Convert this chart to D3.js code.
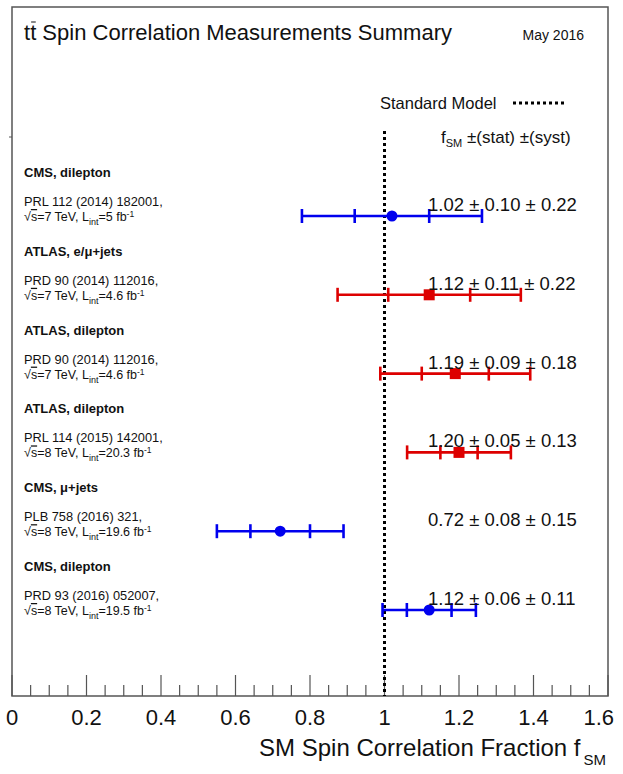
<!DOCTYPE html>
<html>
<head>
<meta charset="utf-8">
<script src="https://cdn.jsdelivr.net/npm/d3@7"></script>
<style>
  body { margin: 0; background: #fff; }
  text { font-family: "Liberation Sans", Arial, sans-serif; fill: #111; }
</style>
</head>
<body>
<svg id="chart" width="623" height="774"></svg>
<script>
// Measurements, top to bottom
var experiments = ["CMS, dilepton", "ATLAS, e/\u03bc+jets", "ATLAS, dilepton", "ATLAS, dilepton", "CMS, \u03bc+jets", "CMS, dilepton"];
var collabs = ["CMS", "ATLAS", "ATLAS", "ATLAS", "CMS", "CMS"];
var references = ["PRL 112 (2014) 182001,", "PRD 90 (2014) 112016,", "PRD 90 (2014) 112016,", "PRL 114 (2015) 142001,", "PLB 758 (2016) 321,", "PRD 93 (2016) 052007,"];
var energies = ["7", "7", "7", "8", "8", "8"];
var lumis = ["5", "4.6", "4.6", "20.3", "19.6", "19.5"];
var fsm = [1.02, 1.12, 1.19, 1.20, 0.72, 1.12];
var statErr = [0.10, 0.11, 0.09, 0.05, 0.08, 0.06];
var systErr = [0.22, 0.22, 0.18, 0.13, 0.15, 0.11];
var xTicks = [0, 0.2, 0.4, 0.6, 0.8, 1, 1.2, 1.4, 1.6];
var smValue = 1;

var cmsColour = '#0000ee';
var atlasColour = '#dd0000';
var frameColour = '#555';

var svg = d3.select("#chart");

var x = d3.scaleLinear().domain([0, 1.6]).range([12, 608]);
var y = d3.scaleLinear().domain([0, experiments.length - 1]).range([216, 610]);
var plotTop = 7, plotBottom = 696;

var rows = experiments.map(function (e, i) {
  return {
    i: i, exp: e, collab: collabs[i], ref: references[i], energy: energies[i], lumi: lumis[i],
    f: fsm[i], stat: statErr[i], syst: systErr[i],
    tot: Math.sqrt(statErr[i] * statErr[i] + systErr[i] * systErr[i])
  };
});

function colourOf(d) { return d.collab === "CMS" ? cmsColour : atlasColour; }

// frame
svg.append("rect")
  .attr("x", x(0)).attr("y", plotTop)
  .attr("width", x(1.6) - x(0)).attr("height", plotBottom - plotTop)
  .attr("fill", "none").attr("stroke", frameColour).attr("stroke-width", 1.5);
svg.append("line")
  .attr("x1", x(0) - 3).attr("x2", x(0)).attr("y1", 137).attr("y2", 137)
  .attr("stroke", frameColour).attr("stroke-width", 1);

// x axis ticks
var minorTicks = d3.range(0, 33).map(function (k) { return k * 0.05; });
svg.append("g").selectAll("line")
  .data(minorTicks)
  .enter().append("line")
  .attr("x1", function (d) { return x(d); })
  .attr("x2", function (d) { return x(d); })
  .attr("y1", plotBottom)
  .attr("y2", function (d, k) { return k % 4 === 0 ? plotBottom - 21 : plotBottom - 11; })
  .attr("stroke", frameColour).attr("stroke-width", 1.2);

svg.append("g").selectAll("text")
  .data(xTicks)
  .enter().append("text")
  .attr("x", function (d) { return x(d); })
  .attr("y", 725)
  .attr("text-anchor", function (d) { return d === 0 ? "start" : (d === 1.6 ? "end" : "middle"); })
  .attr("dx", function (d) { return d === 0 ? -6 : (d === 1.6 ? 6 : 0); })
  .attr("font-size", 22)
  .text(function (d) { return d3.format("")(d); });

var xTitle = svg.append("text")
  .attr("x", 606).attr("y", 756)
  .attr("text-anchor", "end")
  .attr("font-size", 24);
xTitle.append("tspan").text("SM Spin Correlation Fraction f");
xTitle.append("tspan").attr("font-size", 15).attr("dy", 9).attr("dx", 3).text("SM");

// SM line
svg.append("line")
  .attr("x1", x(smValue)).attr("x2", x(smValue))
  .attr("y1", 131).attr("y2", plotBottom)
  .attr("stroke", "#000").attr("stroke-width", 3)
  .attr("stroke-dasharray", "3,3");

// title
var title = svg.append("text").attr("x", 24).attr("y", 40).attr("font-size", 22);
title.append("tspan").text("t");
title.append("tspan").text("t");
title.append("tspan").text(" Spin Correlation Measurements Summary");
var tn = title.node();
var barX = 24 + tn.getSubStringLength(0, 1);
var barW = tn.getSubStringLength(1, 1);
svg.append("line")
  .attr("x1", barX + 1).attr("x2", barX + barW - 0.5)
  .attr("y1", 22).attr("y2", 22)
  .attr("stroke", "#111").attr("stroke-width", 1);

svg.append("text").attr("x", 584).attr("y", 40).attr("text-anchor", "end")
  .attr("font-size", 14).text("May 2016");

// legend
svg.append("text").attr("x", 380).attr("y", 109).attr("font-size", 16.5).text("Standard Model");
svg.append("line")
  .attr("x1", 513).attr("x2", 564).attr("y1", 103).attr("y2", 103)
  .attr("stroke", "#000").attr("stroke-width", 3)
  .attr("stroke-dasharray", "3,3");
var leg2 = svg.append("text").attr("x", 441).attr("y", 143).attr("font-size", 17);
leg2.append("tspan").text("f");
leg2.append("tspan").attr("font-size", 11).attr("dy", 4).text("SM");
leg2.append("tspan").attr("dy", -4).text(" \u00b1(stat) \u00b1(syst)");

// left labels
var labels = svg.append("g").selectAll("g")
  .data(rows)
  .enter().append("g")
  .attr("transform", function (d) { return "translate(24," + y(d.i) + ")"; });

labels.append("text")
  .attr("y", -39).attr("font-size", 13).attr("font-weight", "bold")
  .text(function (d) { return d.exp; });

labels.append("text")
  .attr("y", -10).attr("font-size", 12.8)
  .text(function (d) { return d.ref; });

var line2 = labels.append("text").attr("y", 5).attr("font-size", 12.5);
line2.append("tspan").text("\u221a");
line2.append("tspan").style("text-decoration", "overline").text("s");
line2.append("tspan").text(function (d) { return "=" + d.energy + " TeV, L"; });
line2.append("tspan").attr("font-size", 9).attr("dy", 4).text("int");
line2.append("tspan").attr("dy", -4).text(function (d) { return "=" + d.lumi + " fb"; });
line2.append("tspan").attr("font-size", 8.5).attr("dy", -4).text("-1");

// error bars
var bars = svg.append("g").selectAll("g")
  .data(rows)
  .enter().append("g")
  .attr("stroke", colourOf)
  .attr("stroke-width", 2.6);

bars.append("line")
  .attr("x1", function (d) { return x(d.f - d.tot); })
  .attr("x2", function (d) { return x(d.f + d.tot); })
  .attr("y1", function (d) { return y(d.i); })
  .attr("y2", function (d) { return y(d.i); });

[-1, 1].forEach(function (s) {
  bars.append("line")
    .attr("x1", function (d) { return x(d.f + s * d.tot); })
    .attr("x2", function (d) { return x(d.f + s * d.tot); })
    .attr("y1", function (d) { return y(d.i) - 7; })
    .attr("y2", function (d) { return y(d.i) + 7; });
  bars.append("line")
    .attr("x1", function (d) { return x(d.f + s * d.stat); })
    .attr("x2", function (d) { return x(d.f + s * d.stat); })
    .attr("y1", function (d) { return y(d.i) - 7; })
    .attr("y2", function (d) { return y(d.i) + 7; });
});

// markers
svg.append("g").selectAll("circle")
  .data(rows.filter(function (d) { return d.collab === "CMS"; }))
  .enter().append("circle")
  .attr("cx", function (d) { return x(d.f); })
  .attr("cy", function (d) { return y(d.i); })
  .attr("r", 5.5)
  .attr("fill", cmsColour);

svg.append("g").selectAll("rect")
  .data(rows.filter(function (d) { return d.collab === "ATLAS"; }))
  .enter().append("rect")
  .attr("x", function (d) { return x(d.f) - 5.5; })
  .attr("y", function (d) { return y(d.i) - 5.5; })
  .attr("width", 11).attr("height", 11)
  .attr("fill", atlasColour);

// values
svg.append("g").selectAll("text")
  .data(rows)
  .enter().append("text")
  .attr("x", 428)
  .attr("y", function (d) { return y(d.i) - 5; })
  .attr("font-size", 18.5)
  .text(function (d) {
    var f = d3.format(".2f");
    return f(d.f) + " \u00b1 " + f(d.stat) + " \u00b1 " + f(d.syst);
  });
</script>
</body>
</html>
